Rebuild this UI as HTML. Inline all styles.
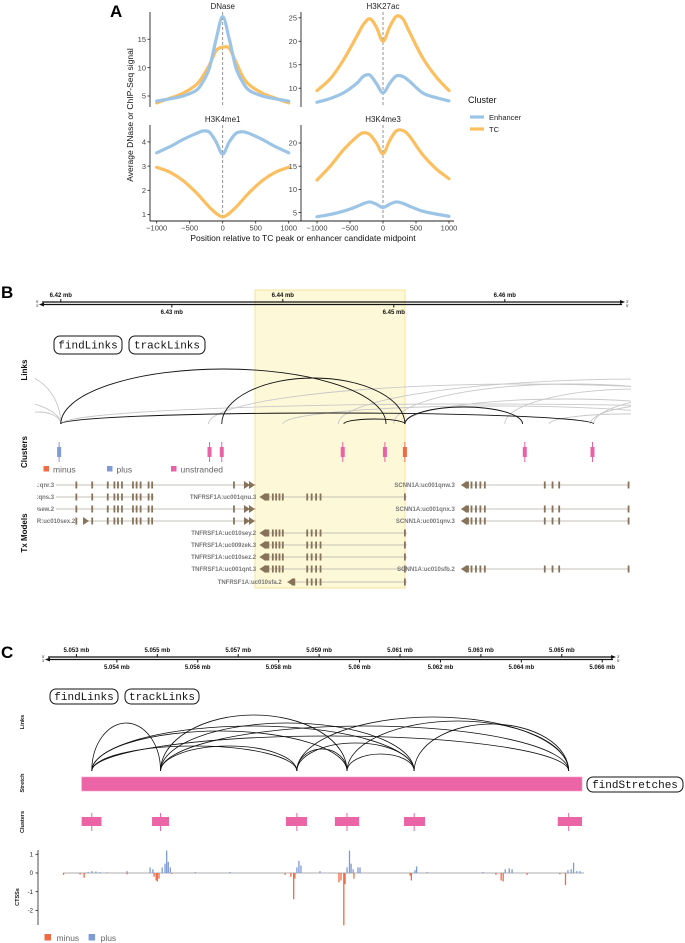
<!DOCTYPE html>
<html><head><meta charset="utf-8">
<style>
html,body{margin:0;padding:0;background:#fff;}
svg{display:block;font-family:"Liberation Sans",sans-serif;}
</style></head>
<body>
<svg id="fig" width="685" height="943" viewBox="0 0 685 943" xmlns="http://www.w3.org/2000/svg">
<defs><clipPath id="clipB"><rect x="35" y="330" width="596" height="100"/></clipPath>
<clipPath id="clipTx"><rect x="37" y="470" width="600" height="120"/></clipPath></defs>
<text x="110" y="17" font-size="17" font-weight="bold">A</text>
<text x="1" y="298" font-size="17" font-weight="bold">B</text>
<text x="1" y="658" font-size="17" font-weight="bold">C</text>

<g id="panelA"></g>
<g id="panelB"></g>
<g id="panelC"></g>
</svg>
<script>
// ================= Panel A data =================
const posA = [-1000,-800,-600,-400,-300,-200,-100,0,100,200,300,400,600,800,1000];
const dnaseEnh = [4.1,4.5,5,6,7.5,10,15,19,15,10,7.5,6,5,4.5,4.1];
const dnaseTC  = [3.8,4.6,5.5,7,8.5,10.5,13,13.6,13.4,11,8.5,7,5.5,4.6,3.8];
const k27Enh = [7,7.8,9,11,12.5,12.8,11,9,11,12.6,12.5,11.5,9,8,7.3];
const k27TC  = [9.5,12,16,21,23.5,24.8,23,20,23,25.3,24.8,22,16.5,12.5,9.5];
const k4me1Enh = [3.55,3.8,4.1,4.35,4.45,4.4,4,3.5,4,4.35,4.42,4.35,4.1,3.8,3.55];
const k4me1TC  = [2.95,2.75,2.4,1.9,1.6,1.3,1.05,0.9,1.05,1.3,1.6,1.9,2.4,2.75,2.95];
const k4me3Enh = [4.1,4.6,5.3,6.3,6.9,7.3,6.8,6.1,6.8,7.3,7,6.4,5.3,4.7,4.2];
const k4me3TC  = [12,15,18.5,21.3,22.2,21.8,20,17.7,20.5,22.6,22.7,21.5,17.5,14.5,12.3];
const xTicksA = [-1000,-500,0,500,1000];
const dnaseTicks=[5,10,15], k27Ticks=[10,15,20,25], k4me1Ticks=[1,2,3,4], k4me3Ticks=[5,10,15,20];

// ================= Panel B data (kb from 6.42 mb) =================
const bTopTicks=[0,20,40], bTopLabels=["6.42 mb","6.44 mb","6.46 mb"];
const bBotTicks=[10,30], bBotLabels=["6.43 mb","6.45 mb"];
const bLinksBlack=[[0,29.3,55],[14.5,31,46],[25.5,31,5],[31,41.6,17],[0,48,11]];
const bLinksGray=[[-8,0,50],[-12,0,25],[-4,0,12],[13.3,70,40],[30,62,40],[40,64,35],[31,60,25],[20,58,18],[0,75,20],[47.7,62,20],[44,58,10],[25,80,45],[48,70,30]];
const bClusterPos=[-0.15,13.4,14.5,25.4,29.2,31.0,41.8,47.9];
const bClusterType=["plus","unstranded","unstranded","unstranded","unstranded","minus","unstranded","unstranded"];
const leftExons=[1.40,2.83,4.23,4.83,5.15,5.51,6.50,6.83,7.19,7.91,8.23];
const tnfExons=[18.7,19.1,19.4,19.7,20.0];
const scnExons=[37.0,37.4,37.8,38.2,43.6,44.3,44.9];

// ================= Panel C data (kb from 5.053 mb) =================
const cTopTicks=[0,2,4,6,8,10,12], cTopLabels=["5.053 mb","5.055 mb","5.057 mb","5.059 mb","5.061 mb","5.063 mb","5.065 mb"];
const cBotTicks=[1,3,5,7,9,11,13], cBotLabels=["5.054 mb","5.056 mb","5.058 mb","5.06 mb","5.062 mb","5.064 mb","5.066 mb"];
const cNodes=[0.38,2.08,5.45,6.69,8.35,12.17];
const cLinkPairs=[[0,1],[0,2],[0,3],[0,4],[0,5],[1,2],[1,3],[1,4],[1,5],[2,3],[2,4],[2,5],[3,4],[3,5],[4,5]];
const cLinkPeaks=[48,25,40,45,35,25,56,48,45,22,28,54,17,50,47];
const cClusterStart=[0.13,1.87,5.18,6.39,8.10,11.9];
const cClusterEnd=[0.62,2.29,5.70,6.99,8.62,12.5];
const cStretch=[0.13,12.5];
const ctssPlusPos=[0.29,0.38,0.48,0.58,0.76,1.25,1.82,1.89,2.12,2.19,2.23,2.27,2.32,2.94,3.8,5.45,5.50,5.55,6.02,6.69,6.75,6.79,6.84,6.96,7.01,8.37,8.41,8.67,10.05,10.6,10.7,10.77,12.15,12.23,12.29,12.37,12.45];
const ctssPlusVal=[0.05,0.1,0.08,0.05,0.03,0.1,0.3,0.2,0.3,0.5,1.2,0.6,0.3,0.05,0.05,0.3,0.65,0.4,0.1,0.3,1.2,0.5,0.2,0.3,0.3,0.15,0.35,0.05,0.05,0.2,0.25,0.2,0.15,0.2,0.55,0.1,0.1];
const ctssMinusPos=[-0.32,0.09,0.19,1.25,1.92,1.97,2.0,2.04,2.36,5.16,5.3,5.37,5.4,6.49,6.54,6.61,6.64,6.86,8.25,8.28,10.37,10.5,10.55,11.14,11.95,12.09];
const ctssMinusVal=[-0.1,-0.08,-0.25,-0.07,-0.2,-0.4,-0.45,-0.3,-0.05,-0.1,-0.2,-1.4,-0.3,-0.5,-0.4,-2.8,-0.6,-0.3,-0.15,-0.4,-0.1,-0.4,-0.45,-0.1,-0.07,-0.65];
const ctssTicks=[1,0,-1,-2];

const NS="http://www.w3.org/2000/svg";
function mk(parent,tag,attrs,text){const e=document.createElementNS(NS,tag);for(const k in attrs)e.setAttribute(k,attrs[k]);if(text!==undefined)e.textContent=text;parent.appendChild(e);return e;}
function smooth(pts){let d="M"+pts[0][0]+","+pts[0][1];for(let i=0;i<pts.length-1;i++){const p0=pts[Math.max(0,i-1)],p1=pts[i],p2=pts[i+1],p3=pts[Math.min(pts.length-1,i+2)];const c1=[p1[0]+(p2[0]-p0[0])/6,p1[1]+(p2[1]-p0[1])/6],c2=[p2[0]-(p3[0]-p1[0])/6,p2[1]-(p3[1]-p1[1])/6];d+=" C"+c1[0]+","+c1[1]+" "+c2[0]+","+c2[1]+" "+p2[0]+","+p2[1];}return d;}

// ================= Panel A =================
(function(){
const g=document.getElementById('panelA');
const BLUE="#9cc4e6",ORANGE="#fcbf5f";
const panels=[
 {name:"dnase",title:"DNase",col:0,top:12,bot:107,y0:5,yp0:96,scale:5.67,enh:dnaseEnh,tc:dnaseTC,ticks:dnaseTicks,xaxis:false},
 {name:"h3k27ac",title:"H3K27ac",col:1,top:12,bot:107,y0:10,yp0:88.2,scale:4.693,enh:k27Enh,tc:k27TC,ticks:k27Ticks,xaxis:false},
 {name:"h3k4me1",title:"H3K4me1",col:0,top:125,bot:221,y0:1,yp0:214.5,scale:24.2,enh:k4me1Enh,tc:k4me1TC,ticks:k4me1Ticks,xaxis:true},
 {name:"h3k4me3",title:"H3K4me3",col:1,top:125,bot:221,y0:5,yp0:212.6,scale:4.64,enh:k4me3Enh,tc:k4me3TC,ticks:k4me3Ticks,xaxis:true}];
panels.forEach(p=>{
 const axX=p.col?301:150, x0=p.col?317:156.7;
 const xs=v=>x0+(v+1000)*0.066, ys=v=>p.yp0-(v-p.y0)*p.scale;
 const pg=mk(g,'g',{});
 
 
 const t=mk(pg,'text',{x:xs(0),y:p.top-3,'font-size':8,'text-anchor':'middle',fill:'#222'},p.title);
 
 
 const ax=mk(pg,'line',{x1:axX,x2:axX,y1:p.top,y2:p.bot,stroke:'#222','stroke-width':0.9});
 
 
 p.ticks.forEach(v=>{
  mk(pg,'line',{x1:axX-2.5,x2:axX,y1:ys(v),y2:ys(v),stroke:'#222','stroke-width':0.8});
  const tl=mk(pg,'text',{x:axX-4,y:ys(v)+2.7,'font-size':7.5,'text-anchor':'end',fill:'#444'},v);
  
  
 });
 if(p.xaxis){
  const xa=mk(pg,'line',{x1:axX,x2:axX+153,y1:p.bot,y2:p.bot,stroke:'#222','stroke-width':0.9});
  
  
  xTicksA.forEach(v=>{
   mk(pg,'line',{x1:xs(v),x2:xs(v),y1:p.bot,y2:p.bot+2.5,stroke:'#222','stroke-width':0.8});
   const tl=mk(pg,'text',{x:xs(v),y:p.bot+9.5,'font-size':7.5,'text-anchor':'middle',fill:'#444'},v<0?"\u2212"+(-v):v);
   
   
  });
 }
 const dl=mk(pg,'line',{x1:xs(0),x2:xs(0),y1:p.top,y2:p.bot,stroke:'#777','stroke-width':0.8,'stroke-dasharray':'3,2'});
 
 
 [[p.tc,ORANGE,'tc'],[p.enh,BLUE,'enhancer']].forEach(s=>{
  const pts=posA.map((v,i)=>[xs(v),ys(s[0][i])]);
  const c=mk(pg,'path',{d:smooth(pts),fill:'none',stroke:s[1],'stroke-width':3.2,'stroke-linecap':'round'});
  
  
 });
});
const yt=mk(g,'text',{x:0,y:0,'font-size':8.5,'text-anchor':'middle',fill:'#111',transform:'translate(133,115) rotate(-90)'},"Average DNase or ChIP-Seq signal");


const xt=mk(g,'text',{x:303,y:241,'font-size':8.5,'text-anchor':'middle',fill:'#111'},"Position relative to TC peak or enhancer candidate midpoint");


const lg=mk(g,'g',{});


mk(lg,'text',{x:468,y:103,'font-size':9,fill:'#111'},"Cluster");
[["Enhancer",BLUE,117],["TC",ORANGE,129]].forEach(e=>{
 const le=mk(lg,'g',{});
 
 
 mk(le,'line',{x1:470,x2:484,y1:e[2],y2:e[2],stroke:e[1],'stroke-width':3.2});
 mk(le,'text',{x:489,y:e[2]+2.8,'font-size':7.5,fill:'#222'},e[0]);
});
})();

// ================= Shared genome-axis helper =================
function genomeAxis(g,xs,x1,x2,y,top,topL,bot,botL,name){
 const ag=mk(g,'g',{});
 
 
 mk(ag,'line',{x1:x1,x2:x2,y1:y,y2:y,stroke:'#111','stroke-width':1.3});
 mk(ag,'line',{x1:x1,x2:x2,y1:y+2.5,y2:y+2.5,stroke:'#111','stroke-width':1.3});
 mk(ag,'path',{d:`M${x2+3},${y} l-5,-2 v4 z`,fill:'#111'});
 mk(ag,'path',{d:`M${x1-3},${y+2.5} l5,-2 v4 z`,fill:'#111'});
 mk(ag,'text',{x:x1-6,y:y+1,'font-size':3.5,fill:'#111'},"5'");
 mk(ag,'text',{x:x1-6,y:y+5,'font-size':3.5,fill:'#111'},"3'");
 mk(ag,'text',{x:x2+4,y:y+1,'font-size':3.5,fill:'#111'},"3'");
 mk(ag,'text',{x:x2+4,y:y+5,'font-size':3.5,fill:'#111'},"5'");
 top.forEach((v,i)=>{mk(ag,'line',{x1:xs(v),x2:xs(v),y1:y-3,y2:y,stroke:'#111','stroke-width':1});
  const t=mk(ag,'text',{x:xs(v),y:y-5,'font-size':6,'font-weight':'bold','text-anchor':'middle',fill:'#111'},topL[i]);
  
  });
 bot.forEach((v,i)=>{mk(ag,'line',{x1:xs(v),x2:xs(v),y1:y+2.5,y2:y+5.5,stroke:'#111','stroke-width':1});
  const t=mk(ag,'text',{x:xs(v),y:y+12,'font-size':6,'font-weight':'bold','text-anchor':'middle',fill:'#111'},botL[i]);
  
  });
}
function button(g,x,y,w,h,label,name,fs){
 const b=mk(g,'g',{});
 
 
 mk(b,'rect',{x:x,y:y,width:w,height:h,rx:6,fill:'#fff',stroke:'#111','stroke-width':1});
 mk(b,'text',{x:x+w/2,y:y+h/2+3.6,'font-size':fs||11,'font-family':'"Liberation Mono",monospace','text-anchor':'middle',fill:'#111'},label);
}
function vlabel(g,x,y,txt,fs,name){
 const t=mk(g,'text',{x:0,y:0,'font-size':fs,'font-weight':'bold','text-anchor':'middle',fill:'#111',transform:`translate(${x},${y}) rotate(-90)`},txt);
 
 
}

// ================= Panel B =================
(function(){
const g=document.getElementById('panelB');
const xs=kb=>60.8+kb*11.1;
const hl=mk(g,'rect',{x:255,y:290,width:150,height:298,fill:'#fdf8d8',stroke:'#f3df86','stroke-width':0.8});


genomeAxis(g,xs,42,622,302,bTopTicks,bTopLabels,bBotTicks,bBotLabels,'genome-axis-b');
button(g,54,336,68,18,"findLinks","findlinks-button-b");
button(g,129,336,76,18,"trackLinks","tracklinks-button-b");
vlabel(g,27,370,"Links",8,'links-track-label-b');
vlabel(g,27,452,"Clusters",8,'clusters-track-label-b');
vlabel(g,27,533,"Tx Models",8,'tx-track-label-b');
const base=424;
const lk=mk(g,'g',{'clip-path':'url(#clipB)'});


bLinksGray.forEach(a=>{const x1=xs(a[0]),x2=xs(a[1]);
 const p=mk(lk,'path',{d:`M${x1},${base} A${(x2-x1)/2},${a[2]} 0 0 1 ${x2},${base}`,fill:'none',stroke:'#c8c8c8','stroke-width':0.9});
 
 });
bLinksBlack.forEach(a=>{const x1=xs(a[0]),x2=xs(a[1]);
 const p=mk(lk,'path',{d:`M${x1},${base} A${(x2-x1)/2},${a[2]} 0 0 1 ${x2},${base}`,fill:'none',stroke:'#111','stroke-width':0.9});
 
 });
const col={plus:"#7f9bd6",minus:"#f06a45",unstranded:"#ea62a6"};
bClusterPos.forEach((v,i)=>{const c=col[bClusterType[i]];
 const cg=mk(g,'g',{});
 
 
 mk(cg,'line',{x1:xs(v),x2:xs(v),y1:442,y2:462,stroke:c,'stroke-width':1});
 mk(cg,'rect',{x:xs(v)-2,y:447,width:4,height:10,fill:c});});
[["minus",43.5],["plus",107],["unstranded",171]].forEach(l=>{
 const lg=mk(g,'g',{});
 
 
 mk(lg,'rect',{x:l[1],y:466,width:5.5,height:5.5,fill:col[l[0]]});
 mk(lg,'text',{x:l[1]+9.5,y:472.5,'font-size':8.5,fill:'#666'},l[0]);});
const BR="#877359";
const tx=mk(g,'g',{'clip-path':'url(#clipTx)'});


function row(y,lab,labKb,s,e,ex,name){
 const rg=mk(tx,'g',{});
 
 
 mk(rg,'line',{x1:xs(s),x2:xs(e),y1:y,y2:y,stroke:'#c4c0b8','stroke-width':1});
 if(lab) mk(rg,'text',{x:xs(labKb),y:y+2,'font-size':6,'font-weight':'bold','text-anchor':'end',fill:'#777'},lab);
 ex.forEach(v=>mk(rg,'rect',{x:xs(v)-0.9,y:y-3.5,width:1.8,height:7,fill:BR}));
}
function arrowR(y,kb){mk(tx,'path',{d:`M${xs(kb)},${y-4} l${6},4 l-6,4 z M${xs(kb)+5},${y-4} l6,4 l-6,4 z`,fill:BR});}
function arrowL(y,kb){mk(tx,'path',{d:`M${xs(kb)},${y} l6,-4 v8 z`,fill:BR});mk(tx,'rect',{x:xs(kb)+5,y:y-3.5,width:3,height:7,fill:BR});}
const rows=[485,497,509,521,533,545,557,569,582];
const leftLabels=["TNFRSF1A:qnr.3","TNFRSF1A:qns.3","LTBR:uc010sew.2","LTBR:uc010sex.2"];
leftLabels.forEach((l,i)=>{const y=rows[i];
 row(y,l,i==3?1.3:-0.6,i==3?2:-0.43,i==1?8.4:17.6,leftExons.concat(i==1?[]:[15.6]),'tx-left-'+i);
 if(i!=1)arrowR(y,16.5);
 if(i==3)mk(tx,'path',{d:`M${xs(2.0)},${y-4} l6,4 l-6,4 z`,fill:BR});});
const tnf=[["TNFRSF1A:uc001qnu.3",1],["TNFRSF1A:uc010sey.2",4],["TNFRSF1A:uc009zek.3",5],["TNFRSF1A:uc010sez.2",6],["TNFRSF1A:uc001qnt.3",7]];
tnf.forEach(t=>{const y=rows[t[1]];
 row(y,t[0],17.6,17.9,31.2,tnfExons.concat([22.2,22.6,23.0,23.4,31.0]),'tx-tnfrsf1a-'+t[1]);arrowL(y,17.9);});
row(rows[8],"TNFRSF1A:uc010sfa.2",19.9,20.4,31.2,[22.2,22.6,23.0,23.4,31.0],'tx-tnfrsf1a-8');arrowL(rows[8],20.4);
const scn=[["SCNN1A:uc001qnw.3",0],["SCNN1A:uc001qnx.3",2],["SCNN1A:uc001qnv.3",3],["SCNN1A:uc010sfb.2",7]];
scn.forEach(t=>{const y=rows[t[1]];row(y,t[0],35.5,36.05,51.2,scnExons.concat([51.15]),'tx-scnn1a-'+t[1]);arrowL(y,36.05);});
})();

// ================= Panel C =================
(function(){
const g=document.getElementById('panelC');
const xs=kb=>76.4+kb*40.45;
genomeAxis(g,xs,48,613,657,cTopTicks,cTopLabels,cBotTicks,cBotLabels,'genome-axis-c');
button(g,50,689,68,15,"findLinks","findlinks-button-c");
button(g,125,689,74,15,"trackLinks","tracklinks-button-c");
vlabel(g,24,722,"Links",5.5,'links-track-label-c');
vlabel(g,24,783,"Stretch",5.5,'stretch-track-label-c');
vlabel(g,24,822,"Clusters",5.5,'clusters-track-label-c');
vlabel(g,19,897,"CTSSs",5.5,'ctss-track-label-c');
const base=771;
cLinkPairs.forEach((p,i)=>{const x1=xs(cNodes[p[0]]),x2=xs(cNodes[p[1]]);
 const a=mk(g,'path',{d:`M${x1},${base} A${(x2-x1)/2},${cLinkPeaks[i]} 0 0 1 ${x2},${base}`,fill:'none',stroke:'#111','stroke-width':0.8});
 
 });
const st=mk(g,'rect',{x:xs(cStretch[0]),y:777,width:xs(cStretch[1])-xs(cStretch[0]),height:14,fill:'#eb64a6',stroke:'#f49ac6','stroke-width':0.6});


button(g,587,777,96,15,"findStretches","findstretches-button",11);
cClusterStart.forEach((s,i)=>{
 const cg=mk(g,'g',{});
 
 
 mk(cg,'line',{x1:xs(cNodes[i]),x2:xs(cNodes[i]),y1:813,y2:831,stroke:'#eb64a6','stroke-width':1});
 mk(cg,'rect',{x:xs(s),y:817,width:xs(cClusterEnd[i])-xs(s),height:9,fill:'#eb64a6'});});
const y0=873,ys=v=>y0-v*18.7;
const ax=mk(g,'line',{x1:38,x2:38,y1:850,y2:925,stroke:'#222','stroke-width':0.8});


ctssTicks.forEach(v=>{mk(g,'line',{x1:35.5,x2:38,y1:ys(v),y2:ys(v),stroke:'#222','stroke-width':0.8});
 const t=mk(g,'text',{x:33,y:ys(v)+2.2,'font-size':6,'text-anchor':'end',fill:'#222'},v);
 
 });
mk(g,'line',{x1:xs(-0.33),x2:xs(12.55),y1:y0,y2:y0,stroke:'#c8c8c8','stroke-width':1.5});
ctssPlusPos.forEach((p,i)=>{const b=mk(g,'rect',{x:xs(p)-0.6,y:ys(ctssPlusVal[i]),width:1.3,height:ctssPlusVal[i]*18.7,fill:'#7f9bd6'});
 
 });
ctssMinusPos.forEach((p,i)=>{const b=mk(g,'rect',{x:xs(p)-0.6,y:y0,width:1.3,height:-ctssMinusVal[i]*18.7,fill:'#f06a45'});
 
 });
[["minus","#f06a45",44.5],["plus","#7f9bd6",88.6]].forEach(l=>{
 const lg=mk(g,'g',{});
 
 
 mk(lg,'rect',{x:l[2],y:934,width:6.5,height:6.5,fill:l[1]});
 mk(lg,'text',{x:l[2]+12,y:941,'font-size':8.5,fill:'#666'},l[0]);});
})();
</script>
</body></html>
